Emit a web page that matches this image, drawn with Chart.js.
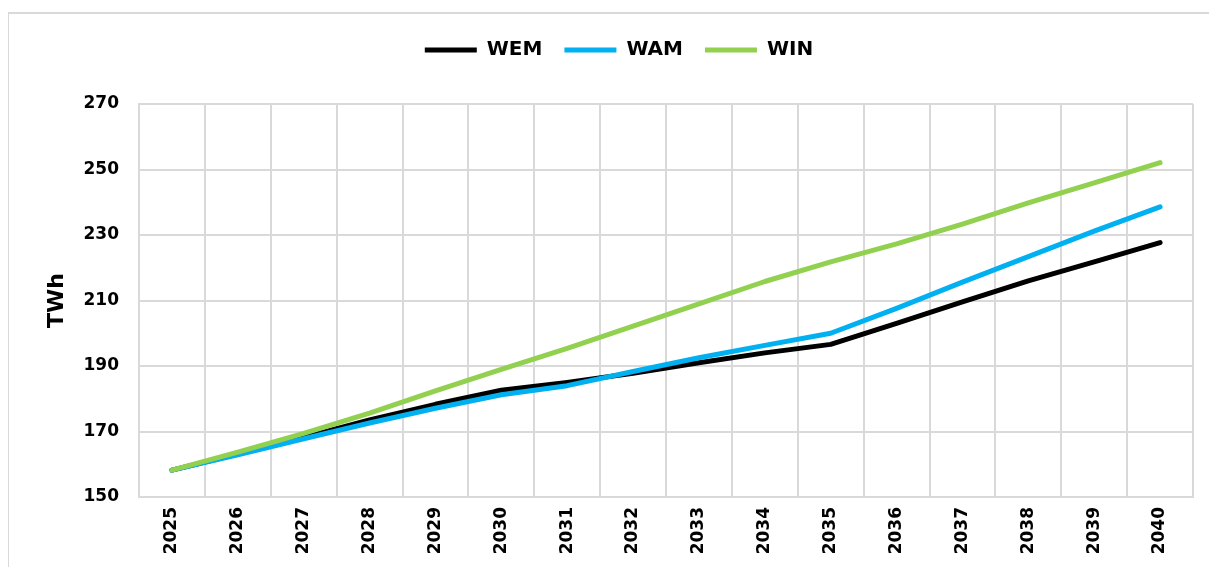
<!DOCTYPE html>
<html>
<head>
<meta charset="utf-8">
<script src="https://cdn.jsdelivr.net/npm/chart.js@4"></script>
<style>
  html, body { margin: 0; padding: 0; background: #fff; }
  #frame {
    position: absolute; left: 8px; top: 12px; width: 1201px; height: 555px;
    border-top: 2px solid #d9d9d9; border-left: 1px solid #d9d9d9;
  }
  #wrap { position: absolute; left: 0; top: 0; width: 1200px; height: 553px; }
</style>
</head>
<body>
<div id="frame"><div id="wrap"><canvas id="myChart" width="1200" height="553"></canvas></div></div>
<script>
// données (TWh)
const years = ["2025", "2026", "2027", "2028", "2029", "2030", "2031", "2032",
  "2033", "2034", "2035", "2036", "2037", "2038", "2039", "2040"];
const wem = [158.2, 163.1, 168.2, 173.5, 178.3, 182.6, 185.0, 187.8,
  191.0, 194.0, 196.6, 203.0, 209.6, 216.0, 221.8, 227.7];
const wam = [158.2, 162.9, 167.8, 172.6, 177.1, 181.2, 184.0, 188.3,
  192.5, 196.3, 200.0, 207.6, 215.6, 223.4, 231.2, 238.6];
const win = [158.2, 163.7, 169.4, 175.6, 182.4, 189.0, 195.4, 202.2,
  209.0, 215.8, 221.8, 227.3, 233.3, 239.8, 245.9, 252.1];
const yTicks = [150, 170, 190, 210, 230, 250, 270];

const gridColor = "#d9d9d9";
const fontFamily = "'DejaVu Sans', Verdana, sans-serif";

// petit plugin pour placer la légende comme sur l'original
const legendGap = {
  id: "legendGap",
  beforeInit(chart) {
    const fitOrig = chart.legend.fit;
    chart.legend.fit = function () {
      fitOrig.bind(chart.legend)();
      this.height += 34;
    };
  },
  afterLayout(chart) {
    // décalage horizontal de la légende
    chart.legend.left += 18;
    chart.legend.right += 18;
  },
};

function serie(label, data, color, order) {
  return {
    label: label,
    data: data,
    borderColor: color,
    backgroundColor: color,
    borderWidth: 5,
    borderCapStyle: "round",
    borderJoinStyle: "round",
    pointRadius: 0,
    pointHoverRadius: 0,
    tension: 0,
    order: order,
  };
}

const ctx = document.getElementById("myChart");
const chart = new Chart(ctx, {
  type: "line",
  data: {
    labels: years,
    datasets: [
      serie("WEM", wem, "#000000", 2),
      serie("WAM", wam, "#00b0f0", 1),
      serie("WIN", win, "#92d050", 0),
    ],
  },
  options: {
    responsive: false,
    animation: false,
    layout: { padding: { top: 4, right: 16, bottom: 0, left: 0 } },
    plugins: {
      tooltip: { enabled: false },
      legend: {
        position: "top",
        labels: {
          usePointStyle: true,
          pointStyle: "line",
          pointStyleWidth: 52,
          padding: 22,
          color: "#000",
          font: { family: fontFamily, size: 20, weight: "bold" },
          sort: (a, b) => a.datasetIndex - b.datasetIndex,
        },
      },
    },
    scales: {
      x: {
        type: "category",
        offset: true,
        grid: { offset: true, color: gridColor, lineWidth: 2, drawTicks: false },
        border: { color: gridColor, width: 2 },
        ticks: {
          color: "#000",
          font: { family: fontFamily, size: 17, weight: "bold" },
          minRotation: 90,
          maxRotation: 90,
          padding: 10,
          autoSkip: false,
        },
        afterFit: (scale) => { scale.height = 70; },
      },
      y: {
        min: 150,
        max: 270,
        afterBuildTicks: (scale) => {
          scale.ticks = yTicks.map((v) => ({ value: v }));
        },
        grid: { color: gridColor, lineWidth: 2, drawTicks: false },
        border: { color: gridColor, width: 2 },
        ticks: {
          color: "#000",
          font: { family: fontFamily, size: 17, weight: "bold" },
          padding: 20,
        },
        title: {
          display: true,
          text: "TWh",
          color: "#000",
          font: { family: fontFamily, size: 22, weight: "bold" },
          padding: { top: 35, bottom: 0 },
        },
        afterFit: (scale) => { scale.width = 130; },
      },
    },
  },
  plugins: [legendGap],
});
</script>
</body>
</html>
